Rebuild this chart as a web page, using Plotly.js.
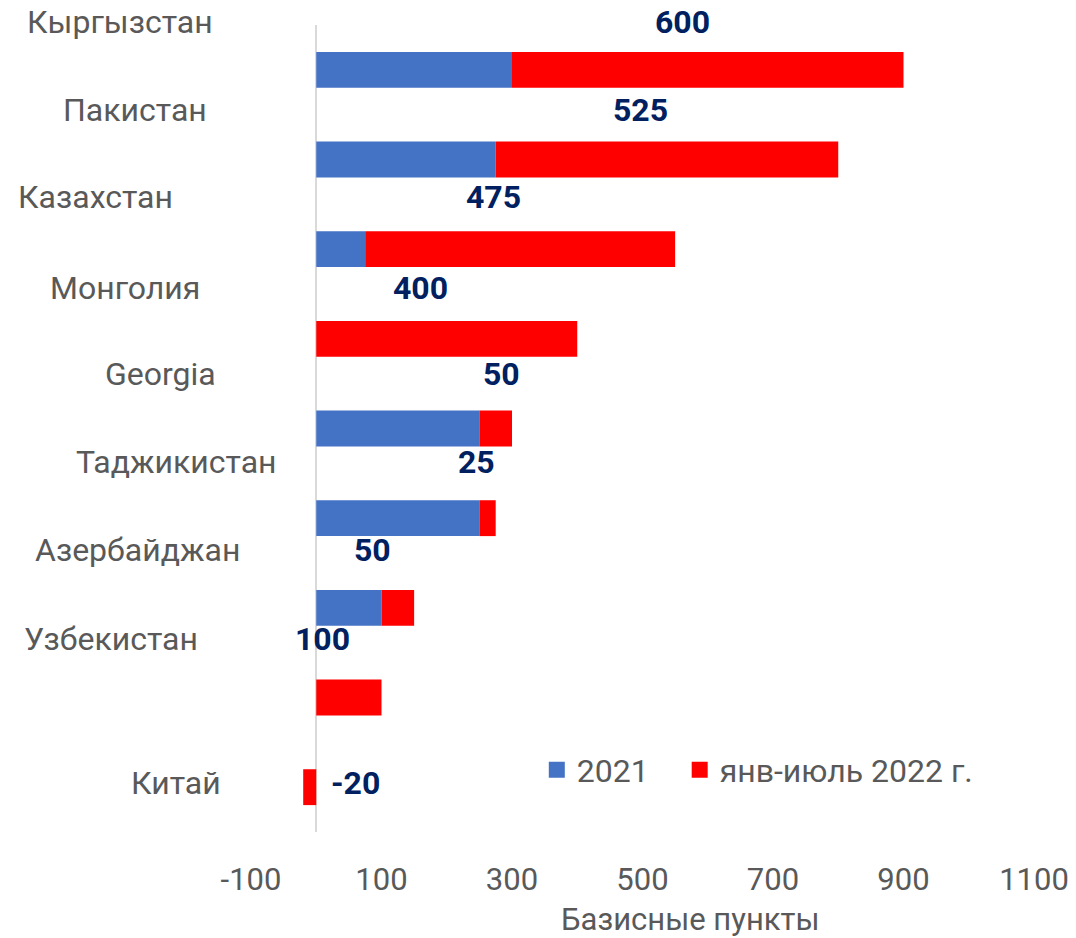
<!DOCTYPE html>
<html>
<head>
<meta charset="utf-8">
<script src="https://cdn.plot.ly/plotly-3.0.1.min.js"></script>
<style>html,body{margin:0;padding:0;background:#fff;}#chart{width:1076px;height:938px;}</style>
</head>
<body>
<div id="chart"></div>
<script>
// ---- data ----
const countries = ["Кыргызстан","Пакистан","Казахстан","Монголия","Georgia","Таджикистан","Азербайджан","Узбекистан","Китай"];
const values2021 = [300, 275, 75, 0, 250, 250, 100, 0, 0];
const values2022 = [600, 525, 475, 400, 50, 25, 50, 100, -20];
const seriesNames = ["2021", "янв-июль 2022 г."];
const xTicks = [-100, 100, 300, 500, 700, 900, 1100];
const xAxisTitle = "Базисные пункты";

// ---- styles / label placement (pixels) ----
const catLabelDX = [-196, -181, -221, -191, -156, -140, -179, -205, -140];
const rowLabelDY = [48, 50, 52, 51, 55, 56, 58, 59, 4];
const valLabelDX = [-25, -26, -27, -26, 6, -11, -25, -26, 46];

const FONT = "Roboto, 'Open Sans', sans-serif";
const GRAY = "#595959";
const BLUE = "#4472C4";
const RED = "#FF0000";
const NAVY = "#002060";

const traces = [
  {type: "bar", orientation: "h", y: countries, x: values2021, name: seriesNames[0],
   marker: {color: BLUE}, showlegend: false, hoverinfo: "x+y"},
  {type: "bar", orientation: "h", y: countries, x: values2022, name: seriesNames[1],
   base: values2022.map((v, i) => v < 0 ? 0 : values2021[i]),
   marker: {color: RED}, showlegend: false, hoverinfo: "x+y"},
  {type: "scatter", mode: "markers", x: [null], y: [null], name: seriesNames[0],
   marker: {color: BLUE, symbol: "square", size: 18}, legend: "legend"},
  {type: "scatter", mode: "markers", x: [null], y: [null], name: seriesNames[1],
   marker: {color: RED, symbol: "square", size: 18}, legend: "legend2"}
];

const annotations = [];
countries.forEach((c, i) => {
  annotations.push({
    xref: "x", yref: "y", x: 0, y: c, text: c, showarrow: false,
    xanchor: "center", yanchor: "middle", xshift: catLabelDX[i], yshift: rowLabelDY[i],
    font: {family: FONT, size: 32, color: GRAY}
  });
  const base = values2022[i] < 0 ? 0 : values2021[i];
  annotations.push({
    xref: "x", yref: "y", x: base + values2022[i] / 2, y: c, text: String(values2022[i]),
    showarrow: false, xanchor: "center", yanchor: "middle",
    xshift: valLabelDX[i], yshift: rowLabelDY[i],
    font: {family: FONT, size: 32, color: NAVY, weight: "bold"}
  });
});
annotations.push({
  xref: "paper", yref: "paper", x: 0.561, y: -0.109, text: xAxisTitle, showarrow: false,
  xanchor: "center", yanchor: "middle", font: {family: FONT, size: 31, color: GRAY}
});

const legendStyle = {
  orientation: "h", xanchor: "left", y: 0.077, yanchor: "middle",
  font: {family: FONT, size: 32, color: GRAY}, bgcolor: "rgba(0,0,0,0)"
};

const layout = {
  width: 1076, height: 938,
  margin: {l: 251, r: 42, t: 25, b: 106},
  paper_bgcolor: "#fff", plot_bgcolor: "#fff",
  barmode: "overlay", bargap: 0.6,
  font: {family: FONT, color: GRAY},
  xaxis: {
    range: [-100, 1100], tickvals: xTicks, ticktext: xTicks.map(String),
    showgrid: false, showline: false, ticks: "",
    zeroline: true, zerolinecolor: "#d9d9d9", zerolinewidth: 2,
    tickfont: {family: FONT, size: 31, color: GRAY}, ticklabelstandoff: 26
  },
  yaxis: {
    type: "category", range: [8.5, -0.5], showticklabels: false,
    showgrid: false, zeroline: false, showline: false, ticks: ""
  },
  showlegend: true,
  legend: Object.assign({}, legendStyle, {x: 0.365}),
  legend2: Object.assign({}, legendStyle, {x: 0.5475}),
  annotations: annotations
};

Plotly.newPlot("chart", traces, layout, {displayModeBar: false, staticPlot: true});
</script>
</body>
</html>
